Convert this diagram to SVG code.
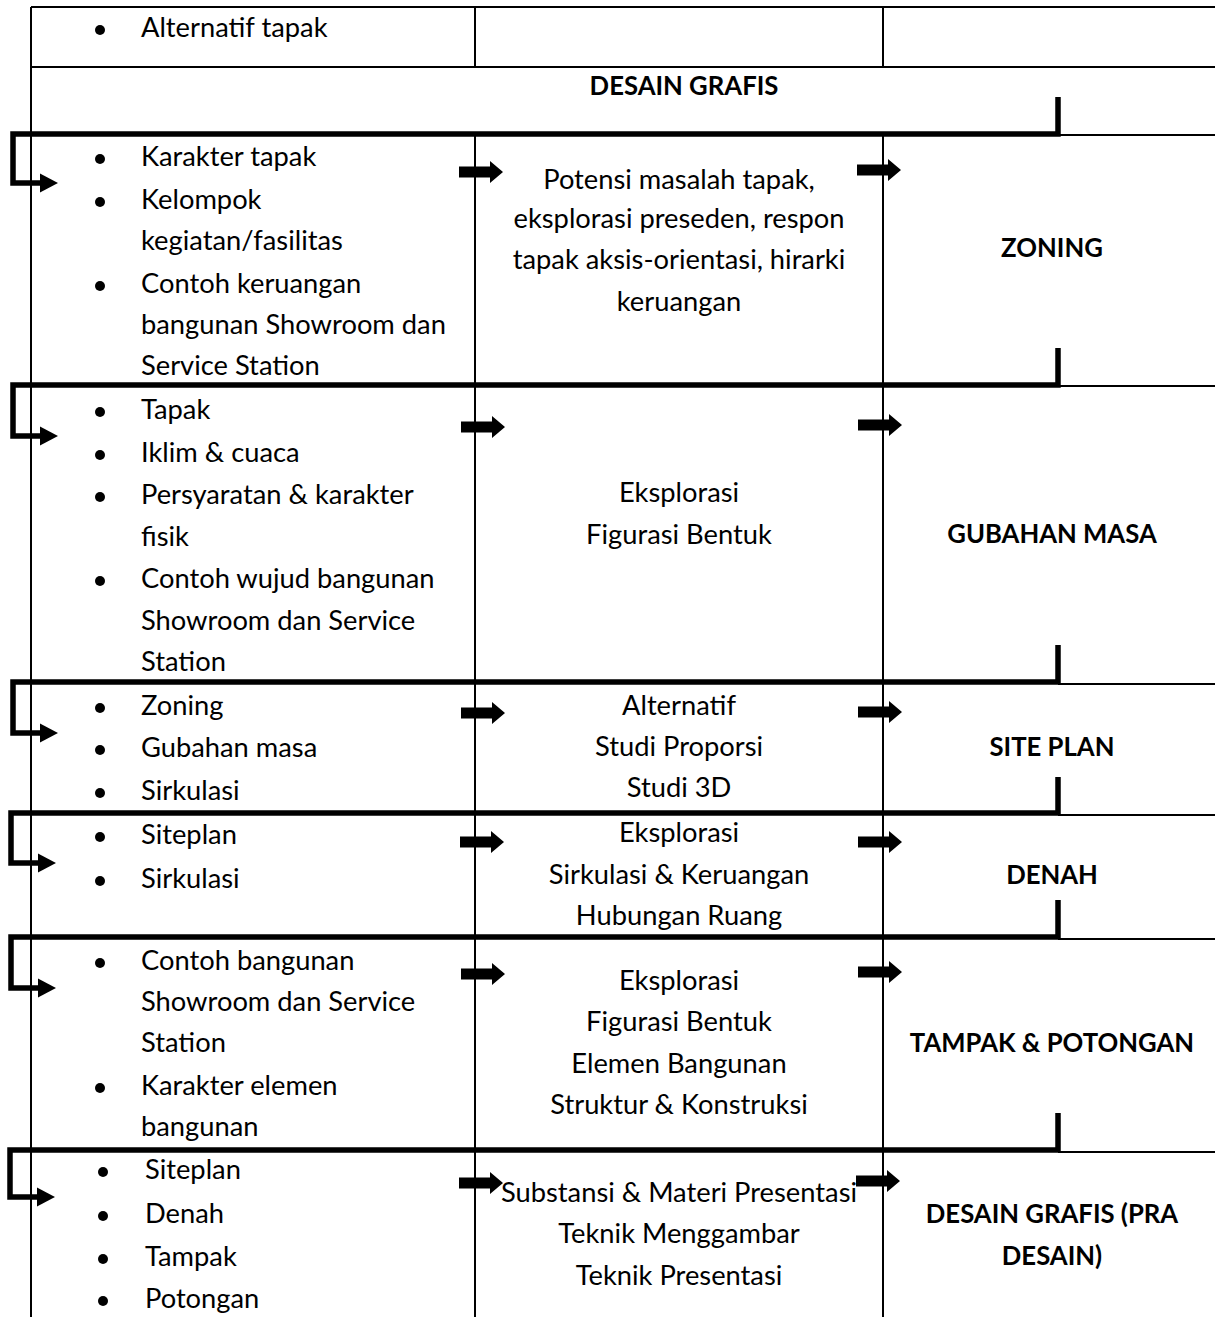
<svg xmlns="http://www.w3.org/2000/svg" width="1215" height="1317" viewBox="0 0 1215 1317">
<style>
.t{font-family:Lato,"Liberation Sans",sans-serif;font-size:27.3px;fill:#000}
.m{text-anchor:middle}
.b{font-weight:bold;font-size:25.7px}
.grid{stroke:#000;stroke-width:2;fill:none}
.br{stroke:#000;stroke-width:5.5;fill:none;stroke-linejoin:miter}
.thin{stroke:#000;stroke-width:2;fill:none}
</style>
<defs>
<path id="ba" d="M0,-5.5 H31 V-11 L44,0 L31,11 V5.5 H0 Z" fill="#000"/>
<path id="ah" d="M0,-9.5 L18,0 L0,9.5 Z" fill="#000"/>
</defs>
<rect width="1215" height="1317" fill="#fff"/>
<g id="table">
<path class="grid" d="M31,7 H1215 M31,67 H1215 M31,7 V1317 M475,7 V67 M883,7 V67 M475,134 V1317 M883,134 V1317"/>
</g>
<g id="connectors">
<path class="br" d="M1058,97 V134 H13 V183 H40"/><use href="#ah" x="40" y="183"/><path class="thin" d="M1058,135 H1215"/>
<path class="br" d="M1058,348 V385 H13 V436 H40"/><use href="#ah" x="40" y="436"/><path class="thin" d="M1058,386 H1215"/>
<path class="br" d="M1058,645 V682 H13 V733 H40"/><use href="#ah" x="40" y="733"/><path class="thin" d="M1058,684 H1215"/>
<path class="br" d="M1058,777 V813 H11 V863 H38"/><use href="#ah" x="38" y="863"/><path class="thin" d="M1058,815 H1215"/>
<path class="br" d="M1058,900 V937 H11 V988 H38"/><use href="#ah" x="38" y="988"/><path class="thin" d="M1058,939 H1215"/>
<path class="br" d="M1058,1113 V1150 H10 V1197 H37"/><use href="#ah" x="37" y="1197"/><path class="thin" d="M1058,1152 H1215"/>
<use href="#ba" x="459" y="172"/><use href="#ba" x="857" y="170"/>
<use href="#ba" x="461" y="427"/><use href="#ba" x="858" y="425"/>
<use href="#ba" x="461" y="713"/><use href="#ba" x="858" y="712"/>
<use href="#ba" x="460" y="842"/><use href="#ba" x="858" y="842"/>
<use href="#ba" x="461" y="974"/><use href="#ba" x="858" y="972"/>
<use href="#ba" x="459" y="1183"/><use href="#ba" x="856" y="1181"/>
</g>
<g id="row0">
<circle cx="100" cy="30" r="5"/>
<text class="t" x="141" y="37">Alternatif tapak</text>
<text class="t b m" x="684" y="95">DESAIN GRAFIS</text>
</g>
<g id="row1">
<circle cx="100" cy="159" r="5"/><circle cx="100" cy="202" r="5"/><circle cx="100" cy="286" r="5"/>
<text class="t" x="141" y="166">Karakter tapak</text>
<text class="t" x="141" y="209">Kelompok</text>
<text class="t" x="141" y="250">kegiatan/fasilitas</text>
<text class="t" x="141" y="293">Contoh keruangan</text>
<text class="t" x="141" y="334">bangunan Showroom dan</text>
<text class="t" x="141" y="375">Service Station</text>
<text class="t m" x="679" y="189">Potensi masalah tapak,</text>
<text class="t m" x="679" y="228">eksplorasi preseden, respon</text>
<text class="t m" x="679" y="269">tapak aksis-orientasi, hirarki</text>
<text class="t m" x="679" y="311">keruangan</text>
<text class="t b m" x="1052" y="257">ZONING</text>
</g>
<g id="row2">
<circle cx="100" cy="412" r="5"/><circle cx="100" cy="455" r="5"/><circle cx="100" cy="497" r="5"/><circle cx="100" cy="581" r="5"/>
<text class="t" x="141" y="419">Tapak</text>
<text class="t" x="141" y="462">Iklim &amp; cuaca</text>
<text class="t" x="141" y="504">Persyaratan &amp; karakter</text>
<text class="t" x="141" y="546">fisik</text>
<text class="t" x="141" y="588">Contoh wujud bangunan</text>
<text class="t" x="141" y="630">Showroom dan Service</text>
<text class="t" x="141" y="671">Station</text>
<text class="t m" x="679" y="502">Eksplorasi</text>
<text class="t m" x="679" y="544">Figurasi Bentuk</text>
<text class="t b m" x="1052" y="543">GUBAHAN MASA</text>
</g>
<g id="row3">
<circle cx="100" cy="708" r="5"/><circle cx="100" cy="750" r="5"/><circle cx="100" cy="793" r="5"/>
<text class="t" x="141" y="715">Zoning</text>
<text class="t" x="141" y="757">Gubahan masa</text>
<text class="t" x="141" y="800">Sirkulasi</text>
<text class="t m" x="679" y="715">Alternatif</text>
<text class="t m" x="679" y="756">Studi Proporsi</text>
<text class="t m" x="679" y="797">Studi 3D</text>
<text class="t b m" x="1052" y="756">SITE PLAN</text>
</g>
<g id="row4">
<circle cx="100" cy="837" r="5"/><circle cx="100" cy="881" r="5"/>
<text class="t" x="141" y="844">Siteplan</text>
<text class="t" x="141" y="888">Sirkulasi</text>
<text class="t m" x="679" y="842">Eksplorasi</text>
<text class="t m" x="679" y="884">Sirkulasi &amp; Keruangan</text>
<text class="t m" x="679" y="925">Hubungan Ruang</text>
<text class="t b m" x="1052" y="884">DENAH</text>
</g>
<g id="row5">
<circle cx="100" cy="963" r="5"/><circle cx="100" cy="1088" r="5"/>
<text class="t" x="141" y="970">Contoh bangunan</text>
<text class="t" x="141" y="1011">Showroom dan Service</text>
<text class="t" x="141" y="1052">Station</text>
<text class="t" x="141" y="1095">Karakter elemen</text>
<text class="t" x="141" y="1136">bangunan</text>
<text class="t m" x="679" y="990">Eksplorasi</text>
<text class="t m" x="679" y="1031">Figurasi Bentuk</text>
<text class="t m" x="679" y="1073">Elemen Bangunan</text>
<text class="t m" x="679" y="1114">Struktur &amp; Konstruksi</text>
<text class="t b m" x="1052" y="1052">TAMPAK &amp; POTONGAN</text>
</g>
<g id="row6">
<circle cx="103" cy="1172" r="5"/><circle cx="103" cy="1216" r="5"/><circle cx="103" cy="1259" r="5"/><circle cx="103" cy="1301" r="5"/>
<text class="t" x="145" y="1179">Siteplan</text>
<text class="t" x="145" y="1223">Denah</text>
<text class="t" x="145" y="1266">Tampak</text>
<text class="t" x="145" y="1308">Potongan</text>
<text class="t m" x="679" y="1202">Substansi &amp; Materi Presentasi</text>
<text class="t m" x="679" y="1243">Teknik Menggambar</text>
<text class="t m" x="679" y="1285">Teknik Presentasi</text>
<text class="t b m" x="1052" y="1223">DESAIN GRAFIS (PRA</text>
<text class="t b m" x="1052" y="1265">DESAIN)</text>
</g>
</svg>
